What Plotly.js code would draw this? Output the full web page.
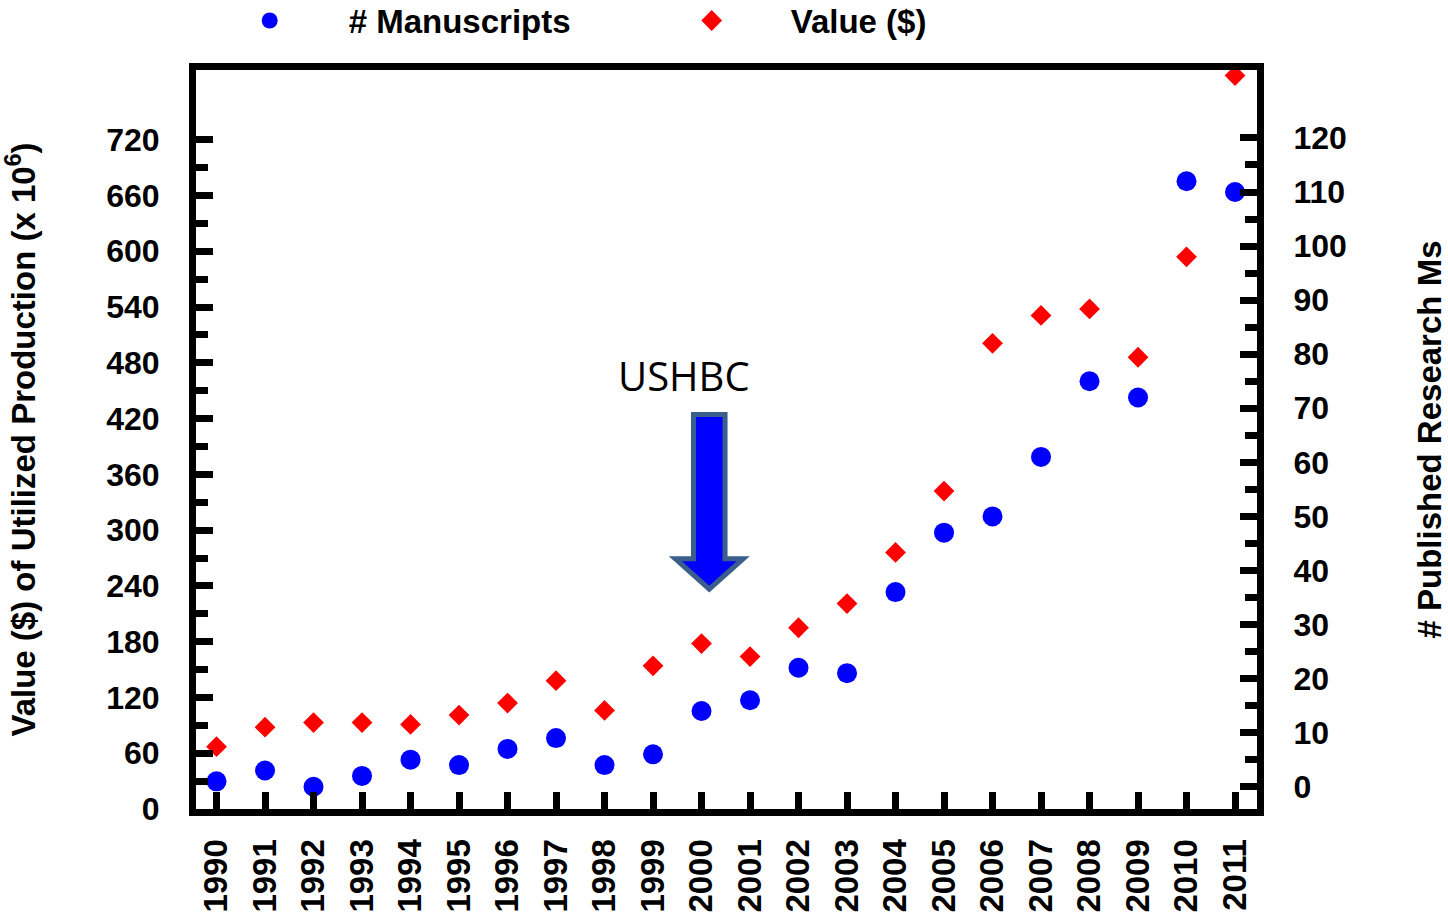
<!DOCTYPE html>
<html><head><meta charset="utf-8">
<script src="https://cdn.plot.ly/plotly-3.0.1.min.js"></script>
<style>html,body{margin:0;padding:0;background:#fff;} #chart{width:1448px;height:913px;}</style>
</head><body><div id="chart"></div>
<script>
const years = [1990,1991,1992,1993,1994,1995,1996,1997,1998,1999,2000,2001,2002,2003,2004,2005,2006,2007,2008,2009,2010,2011];
const yearLabels = years.map(String);
const manuscripts = [1,3,0,2,5,4,7,9,4,6,14,16,22,21,36,47,50,61,75,72,112,110];
const valueMillions = [67,88,93,93,91,101,114,138,106,154,178,164,195,221,276,342,501,531,538,486,594,789];
const leftTicks = [0,60,120,180,240,300,360,420,480,540,600,660,720];
const leftMinor = [30,90,150,210,270,330,390,450,510,570,630,690];
const rightTicks = [0,10,20,30,40,50,60,70,80,90,100,110,120];
const rightMinor = [5,15,25,35,45,55,65,75,85,95,105,115];

const FONT = 'Liberation Sans, Arial, sans-serif';
const L = 195.5, R = 1257, T = 69.5, B = 809;
const W = 1448, H = 913;
const px = x => (x - L) / (R - L);
const py = y => (B - y) / (B - T);

const bold = (s) => ({family: FONT, size: s, color: '#000', weight: 'bold'});

const traces = [
  {x: years, y: manuscripts, name: '# Manuscripts', type: 'scatter', mode: 'markers', yaxis: 'y2',
   marker: {symbol: 'circle', size: 20, color: '#0000ff', line: {width: 0}}},
  {x: years, y: valueMillions, name: 'Value ($)', type: 'scatter', mode: 'markers', yaxis: 'y',
   marker: {symbol: 'diamond', size: 16, color: '#ff0000', line: {width: 0}}}
];

const arrowPts = [[693.2,414.2],[724.8,414.2],[724.8,558.5],[743,558.5],[709,589],[675,558.5],[693.2,558.5]];
const arrowPath = 'M' + arrowPts.map(p => px(p[0]) + ',' + py(p[1])).join(' L') + ' Z';

const layout = {
  width: W, height: H,
  margin: {l: L, r: W - R, t: T, b: H - B, pad: 0, autoexpand: false},
  paper_bgcolor: '#fff', plot_bgcolor: '#fff',
  showlegend: true,
  legend: {orientation: 'h', x: -0.005, xanchor: 'left', y: py(20), yanchor: 'middle',
           font: bold(33), itemwidth: 148, entrywidth: 279, entrywidthmode: 'pixels',
           bgcolor: 'rgba(0,0,0,0)', borderwidth: 0, traceorder: 'normal'},
  xaxis: {range: [1989.577, 2011.453], tickmode: 'array', tickvals: years, ticktext: yearLabels,
          tickangle: -90, ticks: 'inside', ticklen: 17, tickwidth: 7, tickcolor: '#000',
          showline: true, linewidth: 7, linecolor: '#000', mirror: true, ticklabelstandoff: 10,
          showgrid: false, zeroline: false, tickfont: bold(33), automargin: false},
  yaxis: {range: [0, 795], tickmode: 'array', tickvals: leftTicks, ticks: 'inside', ticklen: 17,
          tickwidth: 7, tickcolor: '#000', showline: true, linewidth: 7, linecolor: '#000', ticklabelstandoff: 23,
          minor: {tickmode: 'array', tickvals: leftMinor, ticks: 'inside', ticklen: 12, tickwidth: 7, tickcolor: '#000', showgrid: false},
          showgrid: false, zeroline: false, tickfont: bold(32), automargin: false,
          title: {text: 'Value ($) of Utilized Production (x 10<sup>6</sup>)', font: bold(33), standoff: 80}},
  yaxis2: {overlaying: 'y', side: 'right', anchor: 'x', range: [-4.12, 132.57], tickmode: 'array', tickvals: rightTicks,
           ticks: 'inside', ticklen: 17, tickwidth: 7, tickcolor: '#000', showline: true, linewidth: 7, linecolor: '#000', ticklabelstandoff: 23,
           minor: {tickmode: 'array', tickvals: rightMinor, ticks: 'inside', ticklen: 12, tickwidth: 7, tickcolor: '#000', showgrid: false},
           showgrid: false, zeroline: false, tickfont: bold(32), automargin: false,
           title: {text: '# Published Research Ms', font: bold(33), standoff: 100}},
  annotations: [
    {text: 'USHBC', xref: 'paper', yref: 'paper', x: px(684), y: py(375), xanchor: 'center', yanchor: 'middle',
     showarrow: false, font: {family: 'Open Sans, sans-serif', size: 40, color: '#000'}}
  ],
  shapes: [
    {type: 'path', xref: 'paper', yref: 'paper', path: arrowPath, fillcolor: '#0000ff',
     line: {color: '#3b5e8c', width: 5}, layer: 'above'}
  ]
};

Plotly.newPlot('chart', traces, layout, {displayModeBar: false, staticPlot: true});
</script></body></html>
